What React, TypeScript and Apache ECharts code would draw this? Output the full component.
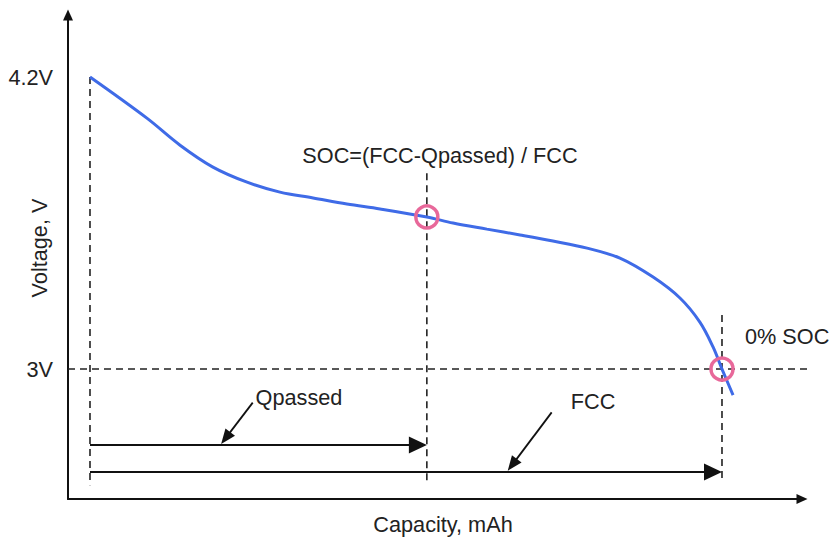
import React, { useEffect, useRef } from "react";
import * as echarts from "echarts";

// ---- data (capacity in mAh, voltage in V) ----
const capacity = [0, 180, 285, 389, 497, 601, 706, 813, 918, 1066, 1149, 1256, 1361, 1465, 1573, 1677, 1782, 1867, 1930, 1972, 2000, 2035];
const voltage = [4.2, 4.031, 3.92, 3.83, 3.768, 3.727, 3.703, 3.678, 3.658, 3.625, 3.6, 3.575, 3.551, 3.526, 3.497, 3.456, 3.378, 3.292, 3.193, 3.09, 3.0, 2.893];

const QPASSED = 1066;
const FCC = 2000;
const V_FULL = 4.2;
const V_EMPTY = 3.0;

const X_MIN = -69.6;
const X_MAX = 2253.2;
const Y_MIN = 2.466;
const Y_MAX = 4.455;

const yTickValues = [V_EMPTY, V_FULL];
const yTickLabels = ["3V", "4.2V"];

// dashed guide segments: [x1, y1, x2, y2]
const guideSegments = [
  [0, V_FULL, 0, 2.523],
  [QPASSED, 3.805, QPASSED, 2.523],
  [FCC, 3.222, FCC, 2.544],
  [X_MIN, V_EMPTY, 2272, V_EMPTY],
];
// range arrows: [x1, y1, x2, y2]
const rangeArrows = [
  [0, 2.688, QPASSED, 2.688],
  [0, 2.577, FCC, 2.577],
];
// pointer arrows: [x1, y1, x2, y2]
const pointerArrows = [
  [515, 2.862, 415, 2.692],
  [1461, 2.822, 1322, 2.582],
];
// marked points
const markers = [
  [QPASSED, 3.625],
  [FCC, V_EMPTY],
];

const FONT = '"Liberation Sans", Arial, Helvetica, sans-serif';
const TXT = "#222";
const FS = 21.7;

function arrowRenderer(headLen: number, headHalf: number, lw: number) {
  return (params: any, api: any) => {
    const a = api.coord([api.value(0), api.value(1)]);
    const b = api.coord([api.value(2), api.value(3)]);
    const dx = b[0] - a[0];
    const dy = b[1] - a[1];
    const len = Math.sqrt(dx * dx + dy * dy) || 1;
    const ux = dx / len;
    const uy = dy / len;
    const bx = b[0] - ux * headLen;
    const by = b[1] - uy * headLen;
    const nx = -uy * headHalf;
    const ny = ux * headHalf;
    return {
      type: "group",
      children: [
        {
          type: "line",
          shape: { x1: a[0], y1: a[1], x2: bx + ux * 1, y2: by + uy * 1 },
          style: { stroke: "#111", lineWidth: lw },
        },
        {
          type: "polygon",
          shape: { points: [[b[0], b[1]], [bx + nx, by + ny], [bx - nx, by - ny]] },
          style: { fill: "#111" },
        },
      ],
    };
  };
}

export default function App() {
  const ref = useRef<HTMLDivElement>(null);
  useEffect(() => {
    if (!ref.current) return;
    const chart = echarts.init(ref.current, undefined, { renderer: "svg" });
    const option: any = {
      animation: false,
      backgroundColor: "#fff",
      grid: { left: 68, right: 27, top: 15, bottom: 39 },
      xAxis: {
        type: "value",
        min: X_MIN,
        max: X_MAX,
        axisLine: {
          show: true,
          onZero: false,
          symbol: ["none", "triangle"],
          symbolSize: [10, 11],
          lineStyle: { color: "#111", width: 2 },
        },
        axisTick: { show: false },
        axisLabel: { show: false },
        splitLine: { show: false },
      },
      yAxis: {
        type: "value",
        min: Y_MIN,
        max: Y_MAX,
        axisLine: {
          show: true,
          onZero: false,
          symbol: ["none", "triangle"],
          symbolSize: [10, 11],
          lineStyle: { color: "#111", width: 2 },
        },
        axisTick: { show: false },
        splitLine: { show: false },
        axisLabel: {
          customValues: yTickValues,
          margin: 15,
          fontSize: FS,
          fontFamily: FONT,
          color: TXT,
          formatter: (v: number) => {
            const i = yTickValues.findIndex((t) => Math.abs(t - v) < 1e-6);
            return i >= 0 ? yTickLabels[i] : "";
          },
        },
      },
      series: [
        {
          type: "custom",
          name: "guides",
          data: guideSegments,
          encode: { x: [0, 2], y: [1, 3] },
          clip: false,
          silent: true,
          renderItem: (params: any, api: any) => {
            const a = api.coord([api.value(0), api.value(1)]);
            const b = api.coord([api.value(2), api.value(3)]);
            return {
              type: "line",
              shape: { x1: a[0], y1: a[1], x2: b[0], y2: b[1] },
              style: { stroke: "#222", lineWidth: 1.6, lineDash: [7, 5] },
            };
          },
        },
        {
          type: "line",
          name: "Voltage",
          data: capacity.map((c, i) => [c, voltage[i]]),
          showSymbol: false,
          smooth: 0.35,
          lineStyle: { color: "#3f6be7", width: 3 },
          silent: true,
        },
        {
          type: "custom",
          name: "ranges",
          data: rangeArrows,
          encode: { x: [0, 2], y: [1, 3] },
          clip: false,
          silent: true,
          renderItem: arrowRenderer(18, 8.5, 2),
        },
        {
          type: "custom",
          name: "pointers",
          data: pointerArrows,
          encode: { x: [0, 2], y: [1, 3] },
          clip: false,
          silent: true,
          renderItem: arrowRenderer(15, 6, 1.8),
        },
        {
          type: "scatter",
          name: "points",
          data: markers,
          symbol: "circle",
          symbolSize: 22,
          itemStyle: { color: "rgba(0,0,0,0)", borderColor: "#e8689a", borderWidth: 3.5, opacity: 1 },
          silent: true,
          z: 5,
        },
      ],
      graphic: [
        {
          type: "text",
          x: 39,
          y: 248,
          rotation: Math.PI / 2,
          style: { text: "Voltage, V", fontSize: FS, fontFamily: FONT, fill: TXT, align: "center", verticalAlign: "middle" },
        },
        {
          type: "text",
          x: 443,
          y: 524,
          style: { text: "Capacity, mAh", fontSize: FS, fontFamily: FONT, fill: TXT, align: "center", verticalAlign: "middle" },
        },
        {
          type: "text",
          x: 440,
          y: 155,
          style: { text: "SOC=(FCC-Qpassed) / FCC", fontSize: FS, fontFamily: FONT, fill: TXT, align: "center", verticalAlign: "middle" },
        },
        {
          type: "text",
          x: 745,
          y: 336,
          style: { text: "0% SOC", fontSize: FS, fontFamily: FONT, fill: TXT, align: "left", verticalAlign: "middle" },
        },
        {
          type: "text",
          x: 299,
          y: 397,
          style: { text: "Qpassed", fontSize: FS, fontFamily: FONT, fill: TXT, align: "center", verticalAlign: "middle" },
        },
        {
          type: "text",
          x: 593,
          y: 401,
          style: { text: "FCC", fontSize: FS, fontFamily: FONT, fill: TXT, align: "center", verticalAlign: "middle" },
        },
      ],
    };
    chart.setOption(option);
    return () => chart.dispose();
  }, []);
  return (
    <div
      ref={ref}
      style={{ position: "fixed", left: 0, top: 0, width: 829, height: 538, background: "#fff" }}
    />
  );
}
